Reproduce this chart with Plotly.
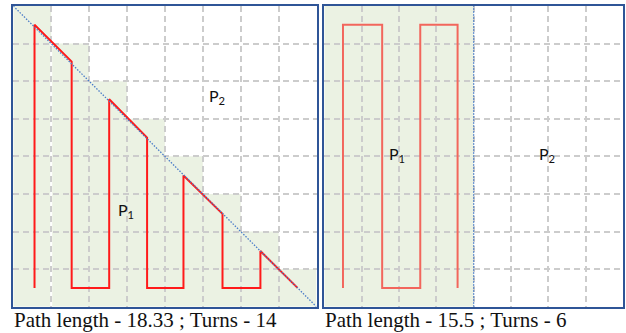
import plotly.graph_objects as go

W, H = 626, 333

# ---- data ----
# left panel: staircase region heights per column (x = k .. k+1)
stair_heights = [8, 7, 6, 5, 4, 3, 2, 1]
left_path_x = [0.56, 0.56, 1.54, 1.54, 2.53, 2.53, 3.53, 3.53, 4.49, 4.49, 5.52, 5.52, 6.52, 6.52, 7.5]
left_path_y = [0.5, 7.5, 6.52, 0.5, 0.5, 5.52, 4.5, 0.5, 0.5, 3.49, 2.47, 0.5, 0.5, 1.48, 0.5]
left_diag_x = [0, 8]
left_diag_y = [8, 0]

# right panel
right_split = 4
right_path_x = [0.5, 0.5, 1.55, 1.55, 2.57, 2.57, 3.57, 3.57]
right_path_y = [0.5, 7.5, 7.5, 0.5, 0.5, 7.5, 7.5, 0.5]

labels_left = [("P<sub>2</sub>", 5.37, 5.6), ("P<sub>1</sub>", 2.97, 2.57)]
labels_right = [("P<sub>1</sub>", 1.95, 4.05), ("P<sub>2</sub>", 5.97, 4.05)]

captions = ["Path length - 18.33 ; Turns - 14", "Path length - 15.5 ; Turns - 6"]

GREEN = "#EBF2E3"
BORDER = "#2F5597"
GRID = "#CCCCCC"
DIAG = "#4A7CC8"

fig = go.Figure()

# left traces
fig.add_trace(go.Scatter(x=left_path_x, y=left_path_y, mode="lines",
                         line=dict(color="#FF1A1A", width=2), xaxis="x", yaxis="y",
                         hoverinfo="skip", showlegend=False))
fig.add_trace(go.Scatter(x=left_diag_x, y=left_diag_y, mode="lines",
                         line=dict(color=DIAG, width=1.3, dash="1.5px,1.5px"), xaxis="x", yaxis="y",
                         hoverinfo="skip", showlegend=False))
# right traces
fig.add_trace(go.Scatter(x=right_path_x, y=right_path_y, mode="lines",
                         line=dict(color="#F2665C", width=2), xaxis="x2", yaxis="y2",
                         hoverinfo="skip", showlegend=False))
fig.add_trace(go.Scatter(x=[right_split, right_split], y=[0, 8], mode="lines",
                         line=dict(color=DIAG, width=1.3, dash="1.5px,1.5px"), xaxis="x2", yaxis="y2",
                         hoverinfo="skip", showlegend=False))

# staircase shading path
p = "M 0 0"
for k, h in enumerate(stair_heights):
    p += f" L {k} {h} L {k+1} {h}"
p += f" L {len(stair_heights)} 0 Z"
shapes = [
    dict(type="path", path=p, xref="x", yref="y", fillcolor=GREEN, line=dict(width=0), layer="below"),
    dict(type="line", x0=1, x1=1, y0=0, y1=stair_heights[1], xref="x", yref="y",
         line=dict(color="white", width=2), layer="below"),
    dict(type="rect", x0=0, x1=right_split, y0=0, y1=8, xref="x2", yref="y2",
         fillcolor=GREEN, line=dict(width=0), layer="below"),
]

annotations = []
for t, x, y in labels_left:
    annotations.append(dict(text=t, x=x, y=y, xref="x", yref="y", showarrow=False,
                            font=dict(family="Lato", size=16, color="#111111")))
for t, x, y in labels_right:
    annotations.append(dict(text=t, x=x, y=y, xref="x2", yref="y2", showarrow=False,
                            font=dict(family="Lato", size=16, color="#111111")))

cap_y = 1 - 320 / H
annotations.append(dict(text=captions[0], x=12 / W, y=cap_y, xref="paper", yref="paper",
                        xanchor="left", yanchor="middle", showarrow=False,
                        font=dict(family="Liberation Serif", size=21, color="#111111")))
annotations.append(dict(text=captions[1], x=323 / W, y=cap_y, xref="paper", yref="paper",
                        xanchor="left", yanchor="middle", showarrow=False,
                        font=dict(family="Liberation Serif", size=21, color="#111111")))

ax_common = dict(range=[0, 8], dtick=1, tick0=0, showticklabels=False, ticks="",
                 showgrid=True, gridcolor=GRID, gridwidth=1.5, griddash="6px,4px",
                 zeroline=False, showline=True, linecolor=BORDER, linewidth=1.5, mirror=True,
                 fixedrange=True)

ydom = [1 - 306.7 / H, 1 - 6 / H]
fig.update_layout(
    width=W, height=H, margin=dict(l=0, r=0, t=0, b=0),
    paper_bgcolor="white", plot_bgcolor="white",
    xaxis=dict(domain=[13.3 / W, 316.5 / W], **ax_common),
    yaxis=dict(domain=ydom, **ax_common),
    xaxis2=dict(domain=[324.3 / W, 623 / W], anchor="y2", **ax_common),
    yaxis2=dict(domain=ydom, anchor="x2", **ax_common),
    shapes=shapes, annotations=annotations,
)

fig.write_html("out.html", config={"displayModeBar": False},
               post_script="document.body.style.margin='0';document.body.style.overflow='hidden';")
